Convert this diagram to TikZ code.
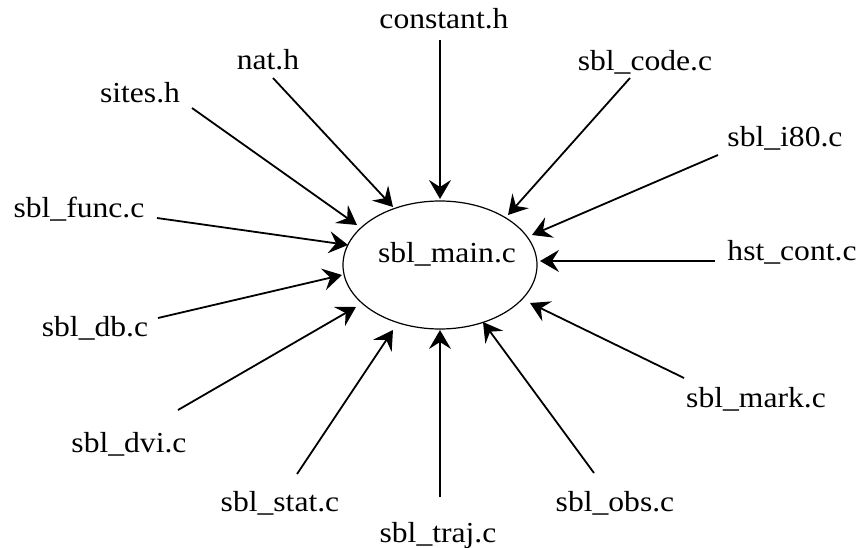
\documentclass[tikz,border=0pt]{standalone}
\usepackage{fontspec}
\setmainfont[FakeStretch=1.09]{Liberation Serif}
\usetikzlibrary{arrows.meta,shapes.geometric}
\begin{document}
\begin{tikzpicture}[x=1pt,y=-1pt,
  lbl/.style={inner sep=0pt,anchor=base,font=\fontsize{29}{34}\selectfont},
  dep/.style={line width=1.8pt,-{Stealth[length=19pt,width=22pt,inset=7pt]}},
  mainnode/.style={draw,ellipse,line width=1.2pt,minimum width=194pt,minimum height=128pt,inner sep=0pt}]
\useasboundingbox (0,0) rectangle (860,548);
\node[mainnode] (main) at (440,265) {};
\node[lbl] (mainlbl) at (447,263) {sbl\_main.c};
% labels
\node[lbl] (constant) at (444,29) {constant.h};
\node[lbl] (nat) at (268,70) {nat.h};
\node[lbl] (code) at (645,71) {sbl\_code.c};
\node[lbl] (sites) at (140,103) {sites.h};
\node[lbl] (i80) at (785,147) {sbl\_i80.c};
\node[lbl] (func) at (79,218) {sbl\_func.c};
\node[lbl] (hst) at (792,261) {hst\_cont.c};
\node[lbl] (db) at (95,336) {sbl\_db.c};
\node[lbl] (mark) at (756,407) {sbl\_mark.c};
\node[lbl] (dvi) at (129,452) {sbl\_dvi.c};
\node[lbl] (stat) at (280,511) {sbl\_stat.c};
\node[lbl] (obs) at (615,511) {sbl\_obs.c};
\node[lbl] (traj) at (438,542) {sbl\_traj.c};
% connector ends
\coordinate (sconstant) at (440,40);  \coordinate (tconstant) at (440,199);
\coordinate (snat) at (273,78);       \coordinate (tnat) at (393,207);
\coordinate (ssites) at (192,108);    \coordinate (tsites) at (357,225);
\coordinate (scode) at (630,78);      \coordinate (tcode) at (508,215);
\coordinate (si80) at (718,155);      \coordinate (ti80) at (532,235);
\coordinate (sfunc) at (157,218);     \coordinate (tfunc) at (348,245);
\coordinate (shst) at (715,261);      \coordinate (thst) at (540,261);
\coordinate (sdb) at (158,318);       \coordinate (tdb) at (342,275);
\coordinate (smark) at (684,378);     \coordinate (tmark) at (530,303);
\coordinate (sdvi) at (178,410);      \coordinate (tdvi) at (356,307);
\coordinate (sstat) at (297,474);     \coordinate (tstat) at (393,330);
\coordinate (straj) at (440,497);     \coordinate (ttraj) at (440,330);
\coordinate (sobs) at (594,473);      \coordinate (tobs) at (483,322);
\foreach \n in {constant,nat,sites,code,i80,func,hst,db,mark,dvi,stat,traj,obs}
  \draw[dep] (s\n) -- (t\n);
\end{tikzpicture}
\end{document}
